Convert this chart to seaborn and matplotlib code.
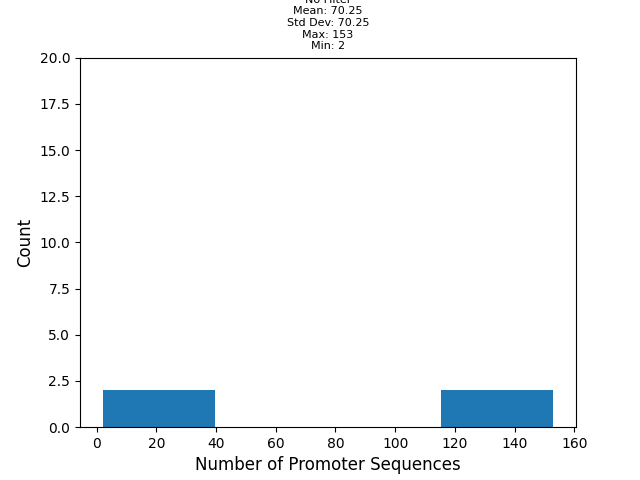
import numpy as np
import pandas as pd
import matplotlib
matplotlib.use("Agg")
import matplotlib.pyplot as plt
import seaborn as sns

# promoter sequence counts per group
counts = [2, 5, 121, 153]
mean_txt = 70.25
std_txt = 70.25

df = pd.DataFrame({"n": counts})

fig, ax = plt.subplots(figsize=(6.4, 4.8), dpi=100)
sns.histplot(data=df, x="n", bins=4, color="#1f77b4", alpha=1, edgecolor="none", ax=ax)
ax.set_ylim(0, 20)
ax.set_xlabel("Number of Promoter Sequences", fontsize=12)
ax.set_ylabel("Count", fontsize=12)
ax.set_title(f"No Filter\nMean: {mean_txt}\nStd Dev: {std_txt}\nMax: {max(counts)}\nMin: {min(counts)}",
             fontsize=8)
fig.savefig("out.png")
